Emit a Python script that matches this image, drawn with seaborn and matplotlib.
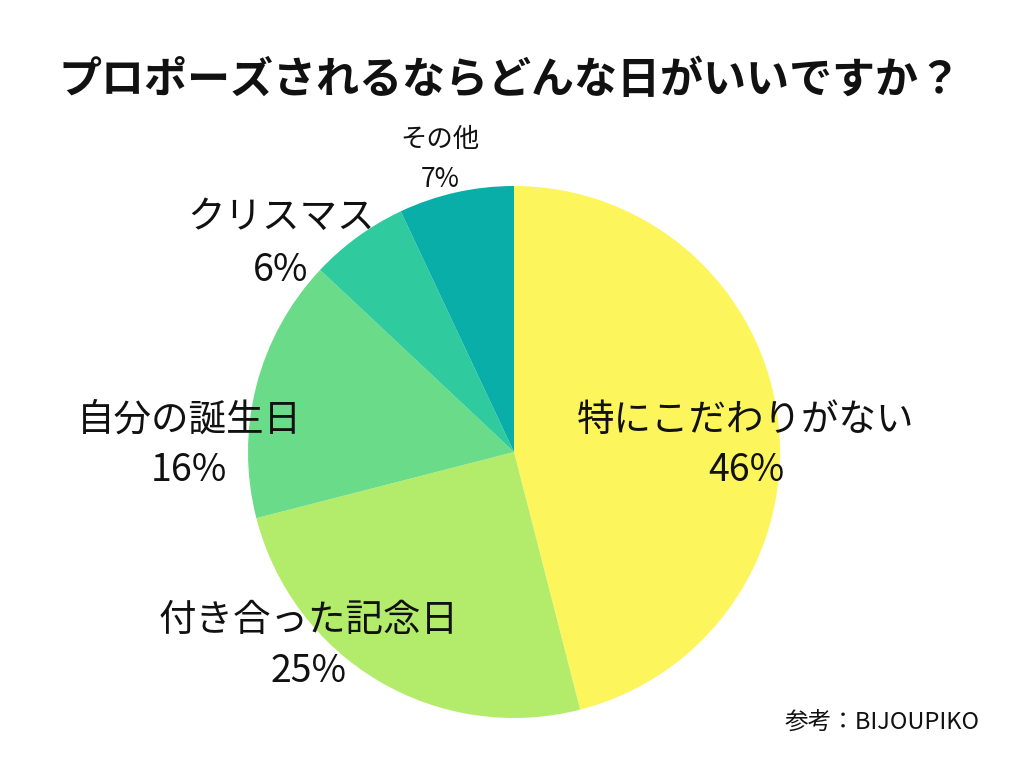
import matplotlib
matplotlib.use("Agg")
import matplotlib.pyplot as plt
import seaborn as sns

# data
categories = ["特にこだわりがない", "付き合った記念日", "自分の誕生日", "クリスマス", "その他"]
shares = [46, 25, 16, 6, 7]
colors = ["#FDF55C", "#B3EC6A", "#6ADB88", "#2FCB9E", "#0AAEA9"]

title = "プロポーズされるならどんな日がいいですか？"
source = "参考：BIJOUPIKO"

sns.set_theme(style="white")
plt.rcParams["font.family"] = ["Noto Sans CJK JP", "DejaVu Sans"]

fig = plt.figure(figsize=(10.24, 7.68), dpi=100)
# pie centre at (514, 452) px, radius 266 px
ax = fig.add_axes([(514 - 266) / 1024, (768 - 452 - 266) / 768, 532 / 1024, 532 / 768])

ax.pie(shares, colors=colors, startangle=90, counterclock=False,
       radius=1.0, wedgeprops={"linewidth": 0})
ax.set_xlim(-1, 1)
ax.set_ylim(-1, 1)
ax.set_aspect("equal")
ax.axis("off")

# label anchors in data units (name line, percent line)
label_pos = [(0.872, 0.12, -0.068), (-0.771, -0.632, -0.827),
             (-1.222, 0.12, -0.068), (-0.876, 0.88, 0.684),
             (-0.278, 1.173, 1.023)]
for i, (name, val) in enumerate(zip(categories, shares)):
    x, y1, y2 = label_pos[i]
    fs = 19 if i == 4 else 27
    ax.text(x, y1, name, ha="center", va="center", fontsize=fs, color="#111111", clip_on=False)
    ax.text(x, y2, f"{val}%", ha="center", va="center", fontsize=fs, color="#111111", clip_on=False)

fig.text(510 / 1024, 1 - 80 / 768, title, ha="center", va="center",
         fontsize=31, fontweight="bold", color="#111111")
fig.text(980 / 1024, 1 - 723 / 768, source, ha="right", va="center",
         fontsize=17, color="#111111")

fig.savefig("out.png", dpi=100, facecolor="white")
